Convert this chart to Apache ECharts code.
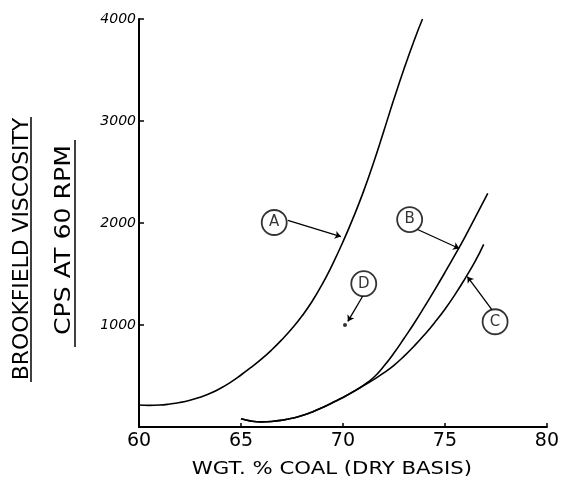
<!DOCTYPE html>
<html>
<head>
<meta charset="utf-8">
<script src="https://cdn.jsdelivr.net/npm/echarts@6/dist/echarts.min.js"></script>
<style>
  html, body { margin: 0; padding: 0; background: #fff; }
  #chart { width: 562px; height: 480px; }
</style>
</head>
<body>
<div id="chart"></div>
<script>
// coal content (wt %) vs viscosity (cps)
var curveA = [[60, 215], [60.5, 212], [61, 215], [61.5, 225], [62, 240], [62.5, 262], [63, 292],
    [63.5, 330], [64, 380], [64.5, 440], [65, 510], [65.5, 585], [66, 665], [66.5, 755], [67, 855],
    [67.5, 965], [68, 1090], [68.5, 1235], [69, 1405], [69.5, 1600], [70, 1815], [70.5, 2050],
    [71, 2305], [71.5, 2590], [72, 2900], [72.5, 3215], [73, 3515], [73.5, 3795], [73.9, 4000]]
var curveB = [[65, 80], [65.5, 58], [66, 50], [66.5, 54], [67, 66], [67.5, 85], [68, 112],
    [68.5, 148], [69, 192], [69.5, 240], [70, 290], [70.5, 345], [71, 408], [71.5, 485], [72, 595],
    [72.5, 725], [73, 870], [73.5, 1020], [74, 1180], [74.5, 1345], [75, 1515], [75.5, 1690],
    [76, 1870], [76.5, 2060], [77.1, 2290]]
var curveC = [[65, 80], [65.5, 58], [66, 50], [66.5, 54], [67, 66], [67.5, 85], [68, 112],
    [68.5, 148], [69, 192], [69.5, 240], [70, 290], [70.5, 345], [71, 405], [71.5, 465], [72, 530],
    [72.5, 605], [73, 695], [73.5, 795], [74, 905], [74.5, 1025], [75, 1155], [75.5, 1300],
    [76, 1460], [76.5, 1630], [76.9, 1790]]
var pointD = [[70.1, 1000]]

var xTicks = [60, 65, 70, 75, 80]
var yTicks = [1000, 2000, 3000, 4000]

// circled letters and their arrows: [name, labelPos, arrowFrom, arrowTo, curveness]
var callouts = [
    ['A', [66.63, 2005], [67.3, 2025], [69.9, 1867], 0.25],
    ['B', [73.27, 2034], [73.66, 1936], [75.7, 1750], -0.15],
    ['C', [77.46, 1032], [77.3, 1150], [76.1, 1474], -0.25],
    ['D', [71.02, 1405], [70.98, 1287], [70.24, 1035], 0.1]
]

var chart = echarts.init(document.getElementById('chart'))

var curveStyle = function(data) {
    return {
        type: 'line',
        data: data,
        smooth: 0.5,
        showSymbol: false,
        lineStyle: { color: '#000', width: 1.6 },
        silent: true,
        z: 3
    }
}

var option = {
    animation: false,
    grid: { left: 139, right: 13, top: 19, bottom: 53 },
    xAxis: {
        type: 'value',
        min: 60,
        max: 80,
        interval: 5,
        axisLine: { lineStyle: { color: '#000', width: 2 } },
        axisTick: { inside: true, length: 4, lineStyle: { color: '#000', width: 1.5 } },
        axisLabel: {
            color: '#000',
            fontFamily: 'DejaVu Sans',
            fontSize: 19,
            margin: 5,
            formatter: function(v) { return xTicks.indexOf(v) >= 0 ? String(v) : '' }
        },
        splitLine: { show: false }
    },
    yAxis: {
        type: 'value',
        min: 0,
        max: 4000,
        interval: 1000,
        axisLine: { show: true, lineStyle: { color: '#000', width: 2 } },
        axisTick: { show: true, inside: true, length: 5, lineStyle: { color: '#000', width: 1.5 } },
        axisLabel: {
            color: '#000',
            fontFamily: 'DejaVu Sans',
            fontStyle: 'italic',
            fontSize: 14,
            margin: 3,
            formatter: function(v) { return yTicks.indexOf(v) >= 0 ? String(v) : '' }
        },
        splitLine: { show: false }
    },
    graphic: [
        {
            type: 'text',
            x: 12, y: 249,
            rotation: Math.PI / 2,
            scaleX: 1.04,
            style: {
                text: 'BROOKFIELD VISCOSITY',
                font: '21px "DejaVu Sans"',
                fill: '#000',
                align: 'center',
                verticalAlign: 'top'
            }
        },
        { type: 'line', shape: { x1: 31, y1: 117, x2: 31, y2: 382 }, style: { stroke: '#000', lineWidth: 1.5 } },
        {
            type: 'text',
            x: 54, y: 240,
            rotation: Math.PI / 2,
            scaleX: 1.2,
            style: {
                text: 'CPS AT 60 RPM',
                font: '21px "DejaVu Sans"',
                fill: '#000',
                align: 'center',
                verticalAlign: 'top'
            }
        },
        { type: 'line', shape: { x1: 75, y1: 140, x2: 75, y2: 347 }, style: { stroke: '#000', lineWidth: 1.5 } },
        {
            type: 'text',
            x: 332, y: 469,
            scaleX: 1.18,
            style: {
                text: 'WGT. % COAL (DRY BASIS)',
                font: '18px "DejaVu Sans"',
                fill: '#000',
                align: 'center',
                verticalAlign: 'middle'
            }
        }
    ],
    series: [
        curveStyle(curveA),
        curveStyle(curveB),
        curveStyle(curveC),
        {
            type: 'scatter',
            data: pointD,
            symbolSize: 4,
            itemStyle: { color: '#000' },
            silent: true,
            z: 3
        },
        {
            type: 'scatter',
            data: callouts.map(function(c) { return { name: c[0], value: c[1] } }),
            symbol: 'circle',
            symbolSize: 25,
            itemStyle: { color: '#fff', borderColor: '#000', borderWidth: 1.8 },
            label: {
                show: true,
                position: 'inside',
                formatter: '{b}',
                color: '#000',
                fontFamily: 'DejaVu Sans',
                fontSize: 15
            },
            silent: true,
            z: 5,
            markLine: {
                silent: true,
                symbol: ['none', 'arrow'],
                symbolSize: 6,
                label: { show: false },
                lineStyle: { color: '#000', width: 1.3, type: 'solid' },
                data: callouts.map(function(c) {
                    return [
                        { coord: c[2] },
                        { coord: c[3], lineStyle: { curveness: c[4] } }
                    ]
                })
            }
        }
    ]
}

chart.setOption(option)
</script>
</body>
</html>
